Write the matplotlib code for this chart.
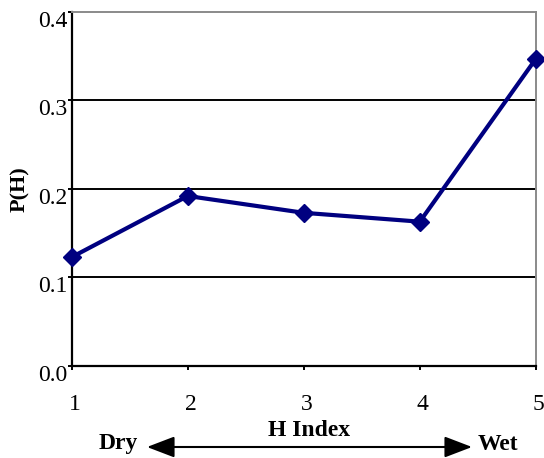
import matplotlib
matplotlib.use("Agg")
import matplotlib.pyplot as plt
from matplotlib.transforms import ScaledTranslation
from matplotlib.patches import FancyArrowPatch

h_index = [1, 2, 3, 4, 5]
p_h = [0.123, 0.192, 0.173, 0.163, 0.347]
y_ticks = [0.0, 0.1, 0.2, 0.3, 0.4]
y_labels = ["0.0", "0.1", "0.2", "0.3", "0.4"]

plt.rcParams["font.family"] = ["Liberation Serif", "DejaVu Serif"]

fig = plt.figure(figsize=(5.44, 4.58), dpi=100)
ax = fig.add_axes([0.132, 0.201, 0.853, 0.773])

for y in y_ticks[1:4]:
    ax.axhline(y, color="black", lw=1.4, zorder=1)

ax.plot(h_index, p_h, color="#000080", lw=3, marker="D", markersize=9, zorder=3,
        clip_on=False)

ax.set_xlim(1, 5)
ax.set_ylim(0, 0.4)
ax.set_xticks(h_index)
ax.set_yticks(y_ticks)
ax.set_yticklabels(y_labels)
ax.tick_params(axis="both", direction="out", length=3, width=1.4, labelsize=17)
ax.tick_params(axis="x", pad=17)
ax.tick_params(axis="y", pad=0)

# nudge tick labels: x labels slightly right, y labels slightly down
dx = ScaledTranslation(3 / 100, 0, fig.dpi_scale_trans)
dy = ScaledTranslation(0, -7 / 100, fig.dpi_scale_trans)
for lbl in ax.get_xticklabels():
    lbl.set_transform(lbl.get_transform() + dx)
for lbl in ax.get_yticklabels():
    lbl.set_transform(lbl.get_transform() + dy)

for side in ("left", "bottom"):
    ax.spines[side].set_color("black")
    ax.spines[side].set_linewidth(1.6)
for side in ("top", "right"):
    ax.spines[side].set_color("#8a8a8a")
    ax.spines[side].set_linewidth(1.4)

ax.set_ylabel("P(H)", fontsize=16, fontweight="bold")
ax.yaxis.set_label_coords(-0.09, 0.5)

fig.text(309 / 544, 1 - 431 / 458, "H Index", ha="center", va="center",
         fontsize=17, fontweight="bold")
fig.text(118 / 544, 1 - 444 / 458, "Dry", ha="center", va="center",
         fontsize=17, fontweight="bold")
fig.text(498 / 544, 1 - 444 / 458, "Wet", ha="center", va="center",
         fontsize=17, fontweight="bold")
fig.add_artist(FancyArrowPatch(
    (147 / 544, 1 - 447 / 458), (472 / 544, 1 - 447 / 458),
    transform=fig.transFigure,
    arrowstyle="<|-|>,head_length=17,head_width=6.5", mutation_scale=1,
    color="black", lw=1.5, shrinkA=0, shrinkB=0))

fig.savefig("out.png", dpi=100)
